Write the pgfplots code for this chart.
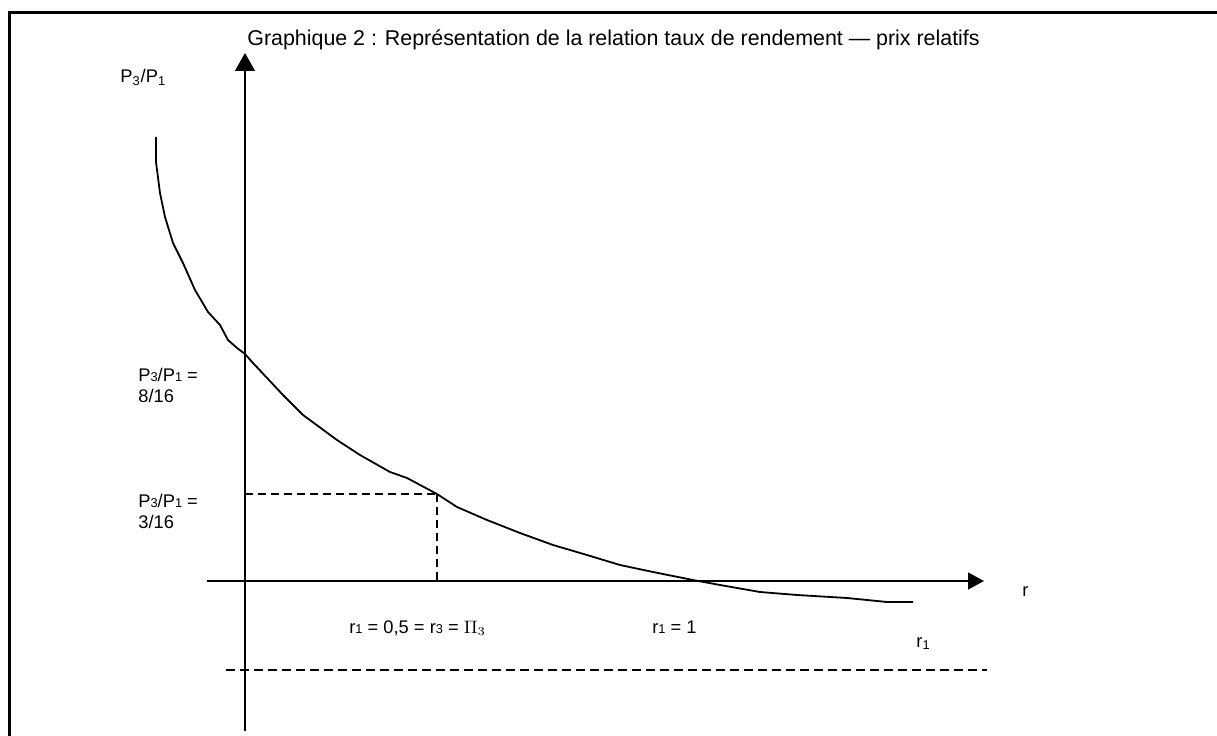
\documentclass[border=0pt]{standalone}
\usepackage{pgfplots}
\pgfplotsset{compat=1.18}
\usepackage{fontspec}
\setmainfont{Liberation Sans}
\usetikzlibrary{arrows.meta}
\newcommand{\sm}[1]{{\fontsize{6.4}{6.4}\selectfont #1}}
\tikzset{lbl/.style={inner sep=0pt,anchor=base west,font=\fontsize{9.15}{11}\selectfont}}
\begin{document}
\begin{tikzpicture}
\begin{axis}[width=608.5pt,height=367.5pt,scale only axis,
  xmin=0,xmax=1217,ymin=0,ymax=735,hide axis,anchor=origin,at={(0,0)},clip=false]
% frame
\addplot[black,line width=1.75pt] coordinates {(9.5,-20) (9.5,722.5) (1240,722.5)};
% axes
\addplot[black,line width=0.65pt,-{Triangle[length=9pt,width=10pt]}] coordinates {(245,4) (245,682)};
\addplot[black,line width=0.65pt,-{Triangle[length=8pt,width=8.5pt]}] coordinates {(207,154) (984,154)};
% curve
\addplot[black,line width=0.9pt] coordinates {
(156,598) (156,573) (160,542) (165,518) (173,492) (183,472) (195,445) (208,423)
(220,410) (228,395) (237,387) (245,381) (253,372) (283,340) (303,320) (337,295)
(360,280) (390,263) (407,257) (437,241) (457,228) (487,215) (520,202) (553,190)
(587,180) (620,170) (653,163) (693,155) (720,150) (760,143) (797,140) (847,137)
(887,133) (913,133)};
% dashed guides
\addplot[black,line width=0.6pt,dash pattern=on 4pt off 2.5pt] coordinates {(245,241) (437,241)};
\addplot[black,line width=0.8pt,dash pattern=on 4pt off 2.5pt] coordinates {(437,241) (437,154)};
\addplot[black,line width=1pt,dash pattern=on 4.5pt off 2.5pt] coordinates {(226,65) (987,65)};
% texts
\node[lbl,font=\fontsize{10.7}{12.8}\selectfont] at (axis cs:247,689) {Graphique 2 : Représentation de la relation taux de rendement — prix relatifs};
\node[lbl] at (axis cs:120,652) {P\textsubscript{3}/P\textsubscript{1}};
\node[lbl] at (axis cs:138,353) {P\sm{3}/P\sm{1} =};
\node[lbl] at (axis cs:138,332) {8/16};
\node[lbl] at (axis cs:138,228) {P\sm{3}/P\sm{1} =};
\node[lbl] at (axis cs:138,207) {3/16};
\node[lbl] at (axis cs:349,102) {r\sm{1} = 0,5 = r\sm{3} = $\Pi_3$};
\node[lbl] at (axis cs:652,102) {r\sm{1} = 1};
\node[lbl] at (axis cs:1022,139) {r};
\node[lbl] at (axis cs:916,88) {r\textsubscript{1}};
\end{axis}
\pgfresetboundingbox
\useasboundingbox (0,0) rectangle (608.5pt,367.5pt);
\end{tikzpicture}
\end{document}
